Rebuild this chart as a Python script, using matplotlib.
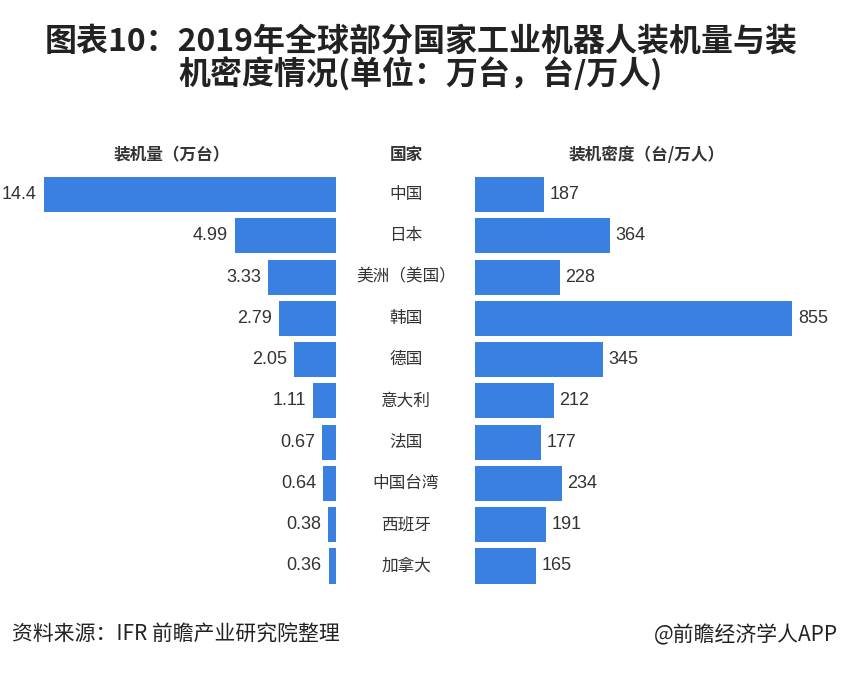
import matplotlib
matplotlib.use("Agg")
import matplotlib.pyplot as plt
from matplotlib.transforms import blended_transform_factory

plt.rcParams['font.family'] = ['Noto Sans CJK SC', 'DejaVu Sans']

countries = ["中国", "日本", "美洲（美国）", "韩国", "德国", "意大利", "法国", "中国台湾", "西班牙", "加拿大"]
installs = [14.4, 4.99, 3.33, 2.79, 2.05, 1.11, 0.67, 0.64, 0.38, 0.36]
install_labels = ["14.4", "4.99", "3.33", "2.79", "2.05", "1.11", "0.67", "0.64", "0.38", "0.36"]
density = [187, 364, 228, 855, 345, 212, 177, 234, 191, 165]

W, H = 842, 676
fig = plt.figure(figsize=(W / 100, H / 100), dpi=100)
fig.patch.set_facecolor('white')

bar_color = '#3A80E0'
txt_color = '#333333'
num_font = ['Liberation Sans Narrow', 'Liberation Sans', 'DejaVu Sans']

y_top, y_bot = 173.9, 586.6

def ax_rect(x0, x1):
    return [x0 / W, 1 - y_bot / H, (x1 - x0) / W, (y_bot - y_top) / H]

pos = list(range(len(countries)))

# left axes
axL = fig.add_axes(ax_rect(0, 336))
axL.barh(pos, installs, height=0.85, color=bar_color)
axL.set_xlim(16.55, 0)
axL.set_ylim(len(countries) - 0.5, -0.5)
axL.axis('off')
for i, (v, lab) in enumerate(zip(installs, install_labels)):
    axL.annotate(lab, xy=(v, i), xytext=(-5, 0), textcoords='offset points',
                 ha='right', va='center', fontsize=13, color=txt_color,
                 family=num_font)

# right axes
axR = fig.add_axes(ax_rect(475, 842))
axR.barh(pos, density, height=0.85, color=bar_color)
axR.set_xlim(0, 989)
axR.set_ylim(len(countries) - 0.5, -0.5)
axR.axis('off')
for i, v in enumerate(density):
    axR.annotate(str(v), xy=(v, i), xytext=(4, 0), textcoords='offset points',
                 ha='left', va='center', fontsize=13, color=txt_color,
                 family=num_font)

# country labels (middle)
tr = blended_transform_factory(fig.transFigure, axR.transData)
for i, c in enumerate(countries):
    fig.text(406 / W, i, c, transform=tr, ha='center', va='center',
             fontsize=12, color=txt_color)

# headers
fig.text(172 / W, 1 - 155 / H, "装机量（万台）", ha='center', va='center',
         fontsize=12, fontweight='bold', color=txt_color)
fig.text(406 / W, 1 - 155 / H, "国家", ha='center', va='center',
         fontsize=12, fontweight='bold', color=txt_color)
fig.text(647 / W, 1 - 155 / H, "装机密度（台/万人）", ha='center', va='center',
         fontsize=12, fontweight='bold', color=txt_color)

# title
fig.text(421 / W, 1 - 42 / H, "图表10：2019年全球部分国家工业机器人装机量与装",
         ha='center', va='center', fontsize=23, fontweight='bold', color='#222222')
fig.text(421 / W, 1 - 75 / H, "机密度情况(单位：万台，台/万人)",
         ha='center', va='center', fontsize=23, fontweight='bold', color='#222222')

# footer
fig.text(12 / W, 1 - 635 / H, "资料来源：IFR 前瞻产业研究院整理", ha='left', va='center',
         fontsize=15, color='#222222')
fig.text(838 / W, 1 - 635 / H, "@前瞻经济学人APP", ha='right', va='center',
         fontsize=15, color='#222222')

fig.savefig("out.png", dpi=100, facecolor='white')
